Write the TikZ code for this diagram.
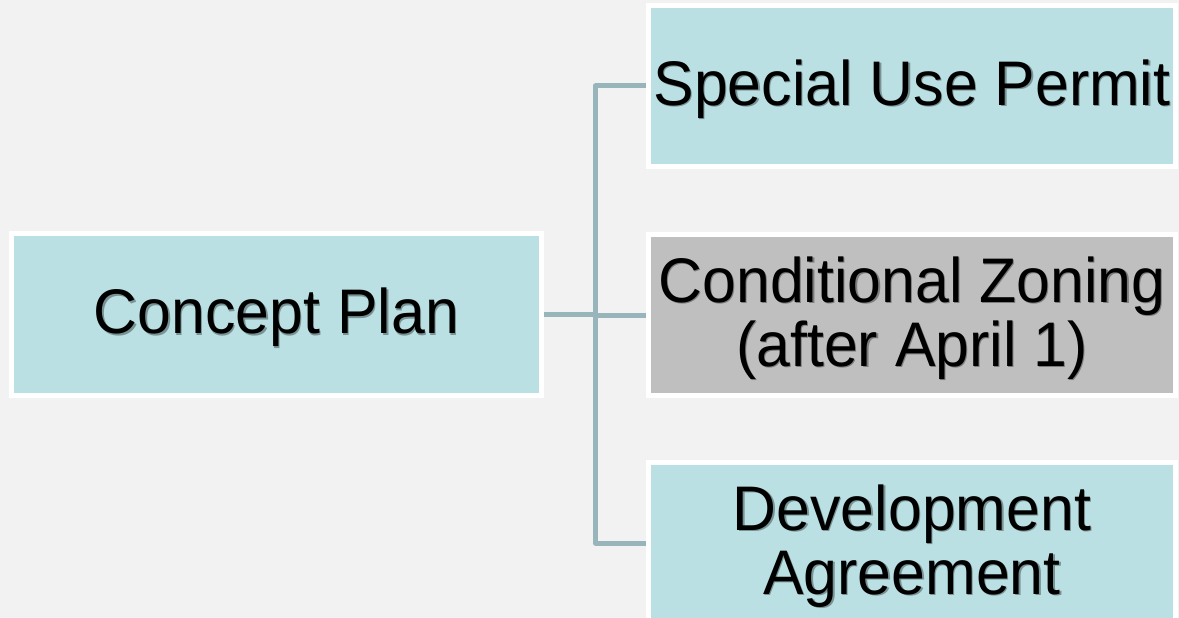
\documentclass[tikz,border=0pt]{standalone}
\usepackage{fontspec}
\setmainfont{Liberation Sans}[FakeStretch=0.965]
\definecolor{bgc}{HTML}{F2F2F2}
\definecolor{tealfill}{HTML}{BAE0E3}
\definecolor{greyfill}{HTML}{BFBFBF}
\definecolor{connc}{HTML}{97B5BA}
\colorlet{shdc}{black!50}
\newcommand\shd[1]{\leavevmode\rlap{\kern1.3pt\raisebox{-1.3pt}{\textcolor{shdc}{#1}}}#1}
\tikzset{
  box/.style={draw=white, line width=5pt, inner sep=0pt, outer sep=0pt,
    minimum height=161pt, align=center, text=black, text depth=7pt,
    font=\fontsize{63}{64}\selectfont},
  tealbox/.style={box, fill=tealfill, execute at begin node={\colorlet{shdc}{tealfill!65!black}}},
  greybox/.style={box, fill=greyfill, execute at begin node={\colorlet{shdc}{greyfill!65!black}}},
  conn/.style={draw=connc, line width=5pt, line join=round}
}
\begin{document}
\begin{tikzpicture}[x=1pt,y=-1pt]
\useasboundingbox (0,0) rectangle (1179,618);
\clip (0,0) rectangle (1179,618);
\fill[bgc] (0,0) rectangle (1179,618);
\node[tealbox, minimum width=530pt, minimum height=162pt] (cp) at (276.5,314.5) {\shd{Concept Plan}};
\node[tealbox, minimum width=527pt] (sup) at (912,86) {\shd{Special Use Permit}};
\node[greybox, minimum width=527pt] (cz) at (912,315) {\shd{Conditional Zoning}\\\shd{(after April 1)}};
\node[tealbox, minimum width=527pt] (da) at (912,543) {\shd{Development}\\\shd{Agreement}};
\coordinate (br) at (595.5,314.5);
\draw[conn, shorten <=2.5pt] (cp.east) -- (br);
\draw[conn, shorten >=2.5pt] (br) |- (sup.west);
\draw[conn, shorten >=2.5pt] (br) |- (cz.west);
\draw[conn, shorten >=2.5pt] (br) |- (da.west);
\end{tikzpicture}
\end{document}
